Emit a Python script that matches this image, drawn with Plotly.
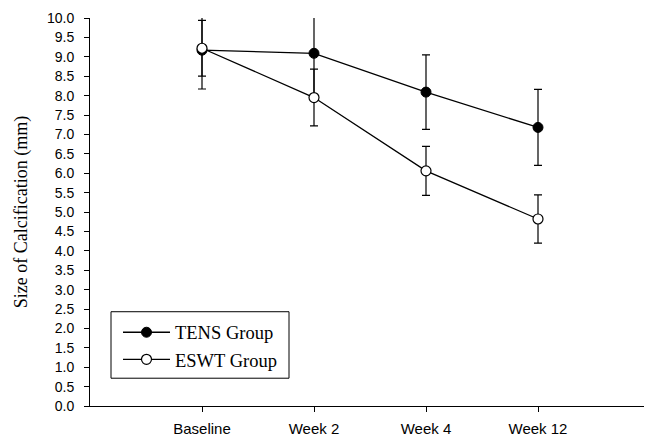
import plotly.graph_objects as go

categories = ["Baseline", "Week 2", "Week 4", "Week 12"]
tens_mean = [9.17, 9.09, 8.09, 7.18]
tens_err = [1.0, 1.15, 0.96, 0.98]
eswt_mean = [9.22, 7.95, 6.06, 4.82]
eswt_err = [0.72, 0.73, 0.63, 0.62]
y_ticks = [i * 0.5 for i in range(21)]

xpos = list(range(len(categories)))

fig = go.Figure()
fig.add_trace(go.Scatter(
    x=xpos, y=tens_mean, name="TENS Group", mode="lines+markers",
    line=dict(color="black", width=1.3),
    marker=dict(size=10, color="black", line=dict(color="black", width=1)),
    error_y=dict(type="data", array=tens_err, color="black", thickness=1.2, width=4),
))
fig.add_trace(go.Scatter(
    x=xpos, y=eswt_mean, name="ESWT Group", mode="lines+markers",
    line=dict(color="black", width=1.3),
    marker=dict(size=10, color="white", line=dict(color="black", width=1.2)),
    error_y=dict(type="data", array=eswt_err, color="black", thickness=1.2, width=4),
))

# legend frame (page body has an 8px margin, figure is sized to fit)
fig.add_shape(type="rect", xref="paper", yref="paper",
              x0=(111 - 90) / 560, x1=(289 - 90) / 560,
              y0=(408 - 380) / 391, y1=(408 - 313) / 391,
              line=dict(color="black", width=1), fillcolor="white", layer="below")

fig.update_layout(
    width=644, height=431,
    margin=dict(l=82, r=2, t=9, b=31),
    paper_bgcolor="white", plot_bgcolor="white",
    showlegend=True,
    legend=dict(
        x=(118 - 90) / 560, y=(408 - 315) / 391, xanchor="left", yanchor="top",
        bgcolor="rgba(0,0,0,0)", borderwidth=0,
        font=dict(family="Liberation Serif", size=18.5, color="black"),
        itemwidth=47, tracegroupgap=0,
    ),
    xaxis=dict(
        range=[-1, 4], tickmode="array", tickvals=xpos, ticktext=categories,
        showgrid=False, zeroline=False, showline=True, linecolor="black", linewidth=1,
        ticks="outside", ticklen=5, tickcolor="black", ticklabelstandoff=4,
        tickfont=dict(family="Liberation Sans", size=15, color="black"),
    ),
    yaxis=dict(
        range=[0, 10], tickmode="array", tickvals=y_ticks,
        ticktext=[f"{v:.1f}" for v in y_ticks],
        showgrid=False, zeroline=False, showline=True, linecolor="black", linewidth=1,
        ticks="outside", ticklen=5, tickcolor="black", ticklabelstandoff=7,
        tickfont=dict(family="Liberation Sans", size=14, color="black"),
        title=dict(text="Size of Calcification (mm)", standoff=14,
                   font=dict(family="Liberation Serif", size=18, color="black")),
    ),
)

fig.write_html("out.html")
